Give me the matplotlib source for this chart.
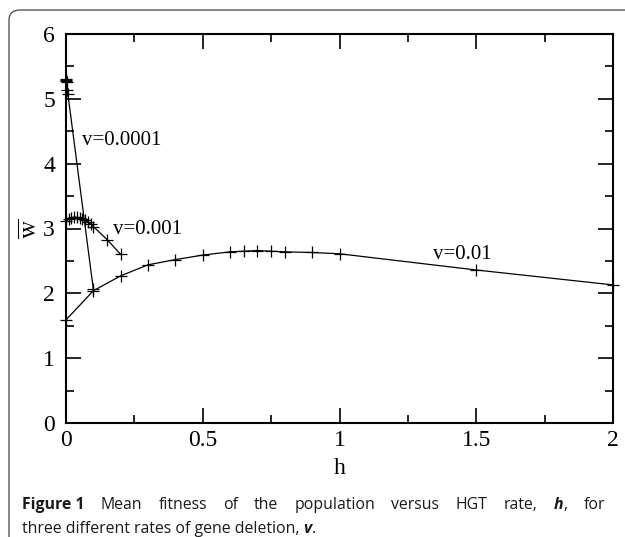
import matplotlib
matplotlib.use("Agg")
import matplotlib.pyplot as plt
from matplotlib.patches import FancyBboxPatch
from matplotlib.ticker import MultipleLocator

# ---- data ----
h_v0001 = [0.0, 0.0005, 0.001, 0.002, 0.004, 0.007, 0.1]
w_v0001 = [5.31, 5.29, 5.27, 5.26, 5.13, 5.07, 2.06]

h_v001 = [0.0, 0.01, 0.02, 0.03, 0.04, 0.05, 0.06, 0.07, 0.08, 0.09, 0.1, 0.15, 0.2]
w_v001 = [3.12, 3.14, 3.16, 3.18, 3.17, 3.16, 3.15, 3.13, 3.10, 3.07, 3.03, 2.83, 2.60]

h_v01 = [0.0, 0.1, 0.2, 0.3, 0.4, 0.5, 0.6, 0.65, 0.7, 0.75, 0.8, 0.9, 1.0, 1.5, 2.0]
w_v01 = [1.59, 2.04, 2.27, 2.44, 2.52, 2.59, 2.64, 2.65, 2.66, 2.65, 2.64, 2.63, 2.61, 2.36, 2.13]

labels = ["v=0.0001", "v=0.001", "v=0.01"]
label_pos = [(0.058, 4.35), (0.172, 2.98), (1.342, 2.60)]

x_ticks = [0, 0.5, 1, 1.5, 2]
x_ticklabels = ["0", "0.5", "1", "1.5", "2"]
y_ticks = [0, 1, 2, 3, 4, 5, 6]
y_ticklabels = ["0", "1", "2", "3", "4", "5", "6"]

caption_line1 = [[("Figure 1", "bold")], [("Mean", "normal")],
                 [("fitness", "normal")], [("of", "normal")], [("the", "normal")],
                 [("population", "normal")], [("versus", "normal")],
                 [("HGT", "normal")], [("rate,", "normal")],
                 [("h", "bolditalic"), (",", "normal")], [("for", "normal")]]
caption_line2 = [("three different rates of gene deletion, ", "normal"),
                 ("v", "bolditalic"), (".", "normal")]

plt.rcParams['font.family'] = ['Liberation Serif', 'DejaVu Serif']
plt.rcParams['mathtext.fontset'] = 'stix'

W, H = 625, 537
fig = plt.figure(figsize=(W / 100, H / 100), dpi=100)

# rounded frame (clipped at right & bottom)
frame = FancyBboxPatch((9 / W, -0.2), 1.5, 1.2 - 10 / H,
                       boxstyle="round,pad=0,rounding_size=0.018",
                       transform=fig.transFigure, fill=False,
                       edgecolor="#444444", linewidth=0.9)
fig.patches.append(frame)

ax = fig.add_axes([66 / W, 1 - 423 / H, (613 - 66) / W, (423 - 34) / H])

kw = dict(color="black", linewidth=0.9, marker="+", markersize=9,
          markeredgewidth=0.9, clip_on=False)
ax.plot(h_v0001, w_v0001, **kw)
ax.plot(h_v001, w_v001, **kw)
ax.plot(h_v01, w_v01, **kw)

for txt, (x, y) in zip(labels, label_pos):
    ax.text(x, y, txt, fontsize=15, ha="left", va="center")

ax.set_xlim(0, 2)
ax.set_ylim(0, 6)
ax.set_xticks(x_ticks)
ax.set_xticklabels(x_ticklabels)
ax.set_yticks(y_ticks)
ax.set_yticklabels(y_ticklabels)
ax.xaxis.set_minor_locator(MultipleLocator(0.25))
ax.yaxis.set_minor_locator(MultipleLocator(0.5))
ax.tick_params(which="both", direction="in", top=True, right=True,
               labelsize=17, width=1.2)
ax.tick_params(axis="x", pad=5)
ax.tick_params(axis="y", pad=8)
ax.tick_params(which="major", length=11)
ax.tick_params(which="minor", length=5.5)
for s in ax.spines.values():
    s.set_linewidth(1.5)

ax.set_xlabel("h", fontsize=17, labelpad=5)
ax.set_ylabel(r"$\overline{\mathrm{w}}$", fontsize=18, labelpad=1)

# caption (line 1 justified to full width)
cap_font = ['Open Sans', 'DejaVu Sans']
fs = 11.4
col = "#1a1a1a"
y1 = 1 - 505 / H
y2 = 1 - 529 / H
x_left, x_right = 22, 605
fig.canvas.draw()
r = fig.canvas.get_renderer()


def style_kw(st):
    return dict(fontweight="bold" if "bold" in st else "normal",
                style="italic" if "italic" in st else "normal")


def draw_word(x, y, segs, measure_only=False):
    for s, st in segs:
        tt = fig.text(x / W, y, s, fontsize=fs, family=cap_font, color=col,
                      va="center", **style_kw(st))
        w = tt.get_window_extent(r).width
        if measure_only:
            tt.remove()
        x += w
    return x


widths = [draw_word(0, y1, segs, measure_only=True) for segs in caption_line1]
gap = (x_right - x_left - sum(widths)) / (len(widths) - 1)
x = x_left
for segs, wd in zip(caption_line1, widths):
    draw_word(x, y1, segs)
    x += wd + gap
draw_word(x_left, y2, caption_line2)

fig.savefig("out.png", dpi=100)
